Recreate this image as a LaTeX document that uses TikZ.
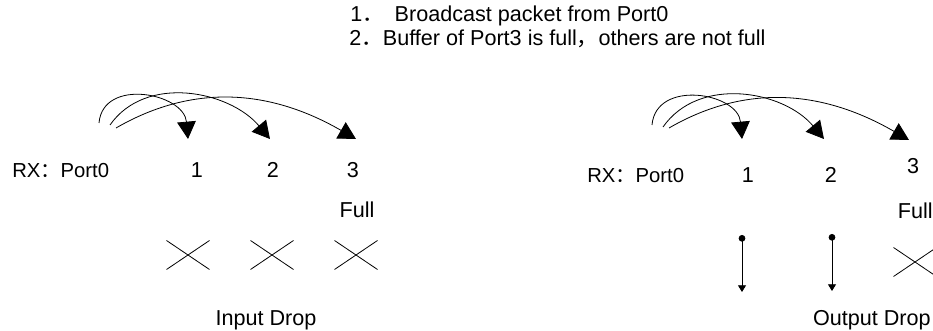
\documentclass[tikz,border=0pt]{standalone}
\usepackage{fontspec}
\setmainfont{Liberation Sans}
\newfontfamily\cjk{Noto Sans CJK SC}
\usetikzlibrary{arrows.meta}
\begin{document}
\begin{tikzpicture}[
    x=0.75pt, y=0.75pt,
    font=\fontsize{16.2}{19}\selectfont,
    label/.style={inner sep=0pt, anchor=base west},
    port/.style={inner sep=0pt, anchor=base},
    bcast/.style={-{Triangle[length=13pt, width=14pt]}, line width=0.6pt},
    pass/.style={{Circle[length=5pt]}-{Triangle[length=5pt, width=6pt]}, line width=0.6pt},
    drop/.style={line width=0.6pt}
]
\useasboundingbox (0,0) rectangle (933,-331);

% Conditions
\node[label] (cond1) at (350,-22) {1{\cjk ．}\hspace{0.5em}Broadcast packet from Port0};
\node[label] (cond2) at (349,-46) {2{\cjk ．}Buffer of Port3 is full{\cjk ，}others are not full};

% Input drop case
\node[label, font=\fontsize{15.2}{18}\selectfont] (rxin) at (12,-178) {RX{\cjk ：}Port0};
\node[port] (in1) at (197,-178) {1};
\node[port] (in2) at (273,-178) {2};
\node[port] (in3) at (353,-178) {3};
\node[port] (infull) at (357,-218) {Full};
\node[port] (indrop) at (266,-326) {Input Drop};

\coordinate (sin1) at (99,-123);
\coordinate (sin2) at (110,-125);
\coordinate (sin3) at (116,-128);
\coordinate (tin1) at (188,-139);
\coordinate (tin2) at (270,-139);
\coordinate (tin3) at (356,-139);

\draw[bcast] (sin1) to[out=85, in=95, looseness=1.3] (tin1);
\draw[bcast] (sin2) to[out=55, in=130] (tin2);
\draw[bcast] (sin3) to[out=30, in=150] (tin3);

% Crosses
\foreach \cx in {188,272,356}
    \draw[drop] (\cx-21.5,-240.5) -- (\cx+21.5,-269.5) (\cx-21.5,-269.5) -- (\cx+21.5,-240.5);

% Output drop case
\node[label, font=\fontsize{15.2}{18}\selectfont] (rxout) at (587,-183) {RX{\cjk ：}Port0};
\node[port] (out1) at (748,-183) {1};
\node[port] (out2) at (831,-183) {2};
\node[port] (out3) at (913,-174) {3};
\node[port, anchor=base east] (outfull) at (933,-219) {Full};
\node[port, anchor=base east] (outdrop) at (931,-326) {Output Drop};

\coordinate (sout1) at (652,-125);
\coordinate (sout2) at (663,-127);
\coordinate (sout3) at (669,-128);
\coordinate (tout1) at (742,-139);
\coordinate (tout2) at (824,-139);
\coordinate (tout3) at (909,-140);

\draw[bcast] (sout1) to[out=85, in=95, looseness=1.3] (tout1);
\draw[bcast] (sout2) to[out=55, in=130] (tout2);
\draw[bcast] (sout3) to[out=30, in=150] (tout3);

% Forwarded to buffer
\coordinate (hout1) at (742,-235);
\coordinate (bout1) at (742,-292);
\coordinate (hout2) at (832,-234);
\coordinate (bout2) at (832,-291);
\draw[pass] (hout1) -- (bout1);
\draw[pass] (hout2) -- (bout2);

\draw[drop] (893.5,-247.5) -- (936.5,-276.5) (893.5,-276.5) -- (936.5,-247.5);

\end{tikzpicture}
\end{document}
